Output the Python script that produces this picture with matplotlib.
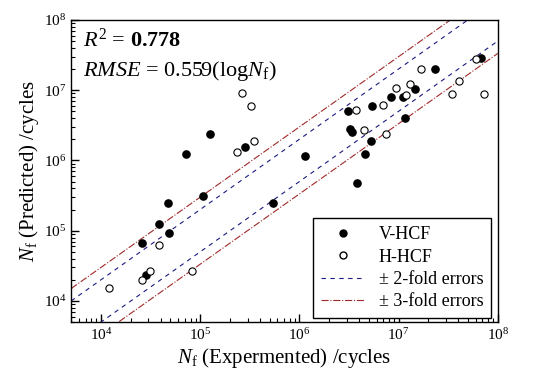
import numpy as np
import matplotlib
matplotlib.use("Agg")
import matplotlib.pyplot as plt
from matplotlib.lines import Line2D

plt.rcParams['font.family'] = ['Liberation Serif', 'DejaVu Serif']
plt.rcParams['mathtext.fontset'] = 'custom'
plt.rcParams['mathtext.rm'] = 'Liberation Serif'
plt.rcParams['mathtext.it'] = 'Liberation Serif:italic'
plt.rcParams['mathtext.bf'] = 'Liberation Serif:bold'

# log10 of cycles
v_exp = [5.10, 4.86, 5.45, 5.03, 4.68, 4.59, 4.69, 4.41, 4.45, 5.73, 6.06, 6.58,
         6.49, 6.51, 6.53, 6.66, 6.72, 6.73, 6.92, 7.04, 7.06, 7.17, 7.37, 7.83]
v_pred = [6.38, 6.09, 6.19, 5.50, 5.40, 5.09, 4.97, 4.82, 4.37, 5.40, 6.06, 5.68,
          6.70, 6.45, 6.40, 6.09, 6.27, 6.78, 6.90, 6.90, 6.61, 7.01, 7.30, 7.46]
h_exp = [5.42, 5.51, 5.54, 5.37, 4.59, 4.49, 4.41, 4.92, 4.08, 6.57, 6.65, 6.84,
         6.87, 6.97, 7.07, 7.12, 7.23, 7.54, 7.61, 7.78, 7.86]
h_pred = [6.96, 6.78, 6.28, 6.12, 4.79, 4.43, 4.30, 4.43, 4.19, 6.72, 6.43, 6.79,
          6.38, 7.03, 6.93, 7.09, 7.30, 6.95, 7.13, 7.45, 6.94]

fig = plt.figure(figsize=(5.47, 3.83), dpi=100)
ax = fig.add_axes([0.130, 0.159, 0.780, 0.789])

xs = np.array([5e3, 1e8])
ax.plot(xs, xs * 2, '--', color='#1a1a80', lw=0.8, dashes=(4, 4))
ax.plot(xs, xs / 2, '--', color='#1a1a80', lw=0.8, dashes=(4, 4))
ax.plot(xs, xs * 3, '-.', color='#a02828', lw=0.8)
ax.plot(xs, xs / 3, '-.', color='#a02828', lw=0.8)

ax.plot(10 ** np.array(v_exp), 10 ** np.array(v_pred), 'o', color='black', ms=5.2, ls='none')
ax.plot(10 ** np.array(h_exp), 10 ** np.array(h_pred), 'o', mfc='white', mec='black',
        mew=0.8, ms=5.2, ls='none')

ax.set_xscale('log')
ax.set_yscale('log')
ax.set_xlim(5e3, 1e8)
ax.set_ylim(5e3, 1e8)
ax.tick_params(which='both', direction='in', top=False, right=False, labelsize=11)
ax.tick_params(which='major', length=6, width=1)
ax.tick_params(which='minor', length=3, width=0.8)
for s in ax.spines.values():
    s.set_linewidth(1)

ax.set_xlabel(r'$N_\mathrm{f}$ (Expermented) /cycles', fontsize=15, labelpad=2)
ax.set_ylabel(r'$N_\mathrm{f}$ (Predicted) /cycles', fontsize=15, labelpad=2)

ax.text(0.028, 0.91, r'$R^2$ = $\mathbf{0.778}$', transform=ax.transAxes, fontsize=16)
ax.text(0.028, 0.815, r'$RMSE$ = 0.559(log$N_\mathrm{f}$)', transform=ax.transAxes, fontsize=16)

handles = [
    Line2D([], [], marker='o', color='black', ls='none', ms=5),
    Line2D([], [], marker='o', mfc='white', mec='black', ls='none', ms=5),
    Line2D([], [], color='#1a1a80', ls='--', lw=0.8, dashes=(4, 4)),
    Line2D([], [], color='#a02828', ls='-.', lw=0.8),
]
labels = ['V-HCF', 'H-HCF', '± 2-fold errors', '± 3-fold errors']
leg = ax.legend(handles, labels, loc='lower right', fontsize=13, frameon=True,
                fancybox=False, edgecolor='black', framealpha=1,
                borderaxespad=0.0, handlelength=2.4, labelspacing=0.3,
                borderpad=0.45, bbox_to_anchor=(0.985, 0.012))
leg.get_frame().set_linewidth(1)

fig.savefig('out.png', dpi=100)
